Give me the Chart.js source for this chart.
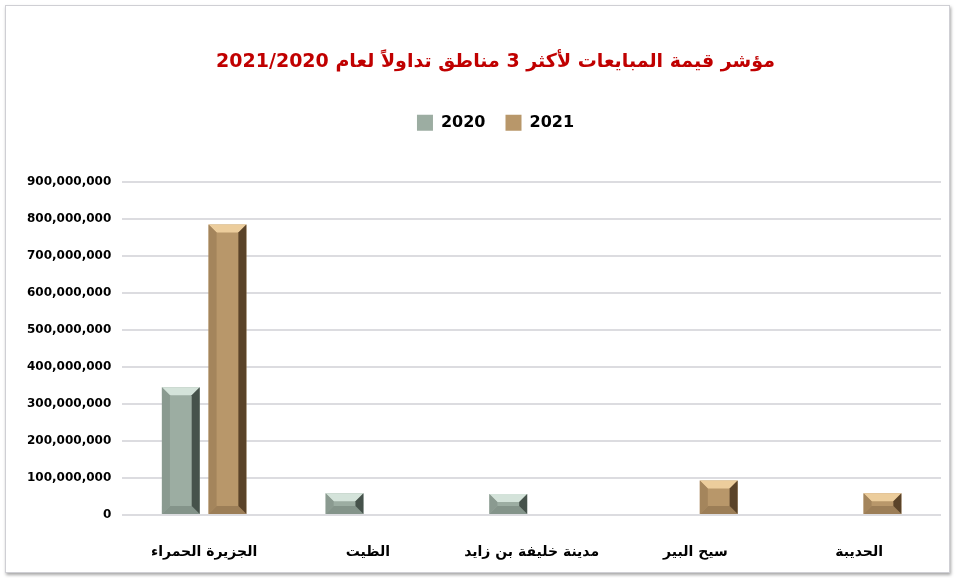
<!DOCTYPE html>
<html>
<head>
<meta charset="utf-8">
<script src="https://cdn.jsdelivr.net/npm/chart.js@4.4.1/dist/chart.umd.min.js"></script>
<style>
  body { margin: 0; background: #fff; }
  #frame {
    position: absolute; left: 5px; top: 5px; width: 943px; height: 566px;
    border: 1px solid #cfcfd4; box-shadow: 1px 2px 3px rgba(0,0,0,0.35);
  }
  #wrap { position: absolute; left: 0; top: 0; width: 957px; height: 578px; }
</style>
</head>
<body>
<div id="frame"></div>
<div id="wrap"><canvas id="chart-mabayaat" width="957" height="578"></canvas></div>
<script>
// data
var regions = ["الجزيرة الحمراء", "الظيت", "مدينة خليفة بن زايد", "سيح البير", "الحديبة"];
var values2020 = [345000000, 59000000, 57000000, null, null];
var values2021 = [785000000, null, null, 93000000, 59000000];
var seriesNames = ["2020", "2021"];
var yMax = 900000000;
var yStep = 100000000;

// bevel look for the bars
var bevelColors = [
  { light: "#d4e3da", dark: "#46524b", side: "#8a9a90", bottom: "#84948a" },
  { light: "#eccd9c", dark: "#5a4329", side: "#a4855c", bottom: "#9c7e57" }
];

var bevelPlugin = {
  id: "bevel",
  afterDatasetsDraw: function(chart) {
    var ctx = chart.ctx;
    chart.data.datasets.forEach(function(ds, i) {
      var meta = chart.getDatasetMeta(i);
      var c = bevelColors[i];
      meta.data.forEach(function(el, j) {
        if (ds.data[j] == null) return;
        var p = el.getProps(["x", "y", "base", "width"], true);
        var l = p.x - p.width / 2, r = p.x + p.width / 2, t = p.y, b = p.base;
        var s = Math.min(8, (b - t) / 2.5, p.width / 4);
        ctx.save();
        function poly(pts, col) {
          ctx.beginPath();
          ctx.moveTo(pts[0][0], pts[0][1]);
          for (var k = 1; k < pts.length; k++) ctx.lineTo(pts[k][0], pts[k][1]);
          ctx.closePath();
          ctx.fillStyle = col;
          ctx.fill();
        }
        poly([[l, t], [r, t], [r - s, t + s], [l + s, t + s]], c.light);
        poly([[l, b], [r, b], [r - s, b - s], [l + s, b - s]], c.bottom);
        poly([[l, t], [l + s, t + s], [l + s, b - s], [l, b]], c.side);
        poly([[r, t], [r - s, t + s], [r - s, b - s], [r, b]], c.dark);
        ctx.restore();
      });
    });
  }
};

var legendSpace = {
  id: "legendSpace",
  beforeInit: function(chart) {
    var fit = chart.legend.fit;
    chart.legend.fit = function() {
      fit.bind(chart.legend)();
      this.height += 41;
    };
  },
  // title and legend sit a bit right of the canvas centre
  afterLayout: function(chart) {
    var shift = 17;
    [chart.titleBlock, chart.legend].forEach(function(box) {
      box.left += shift;
      box.right += shift;
    });
  }
};

var ctx1 = document.getElementById("chart-mabayaat").getContext("2d");

var dataMabayaat = {
  labels: regions,
  datasets: [
    {
      label: seriesNames[0],
      backgroundColor: "#9cada2",
      borderColor: "#9cada2",
      data: values2020
    },
    {
      label: seriesNames[1],
      backgroundColor: "#b8976a",
      borderColor: "#b8976a",
      data: values2021
    }
  ]
};

var chart = new Chart(ctx1, {
  type: "bar",
  data: dataMabayaat,
  plugins: [bevelPlugin, legendSpace],
  options: {
    responsive: false,
    animation: false,
    categoryPercentage: 0.57,
    barPercentage: 0.81,
    layout: { padding: { left: 16, right: 16, top: 51, bottom: 0 } },
    plugins: {
      title: {
        display: true,
        text: "مؤشر قيمة المبايعات لأكثر 3 مناطق تداولاً لعام 2021/2020",
        color: "#c00000",
        font: { family: "DejaVu Sans", size: 19, weight: "bold" },
        padding: { top: 0, bottom: 21 }
      },
      legend: {
        display: true,
        labels: {
          color: "#000",
          boxWidth: 16,
          boxHeight: 16,
          padding: 20,
          font: { family: "DejaVu Sans", size: 16, weight: "bold" }
        }
      },
      tooltip: { enabled: false }
    },
    scales: {
      x: {
        grid: { display: false, drawTicks: false },
        border: { display: false },
        afterFit: function(scale) { scale.height = 63; },
        ticks: {
          color: "#000",
          padding: 29,
          font: { family: "DejaVu Sans", size: 14, weight: "bold" }
        }
      },
      y: {
        min: 0,
        max: yMax,
        grid: { color: "#dcdce0", lineWidth: 2, drawTicks: false },
        border: { display: false },
        ticks: {
          stepSize: yStep,
          color: "#000",
          padding: 11,
          font: { family: "DejaVu Sans", size: 12, weight: "bold" },
          callback: function(v) { return v.toLocaleString("en-US"); }
        }
      }
    }
  }
});
</script>
</body>
</html>
